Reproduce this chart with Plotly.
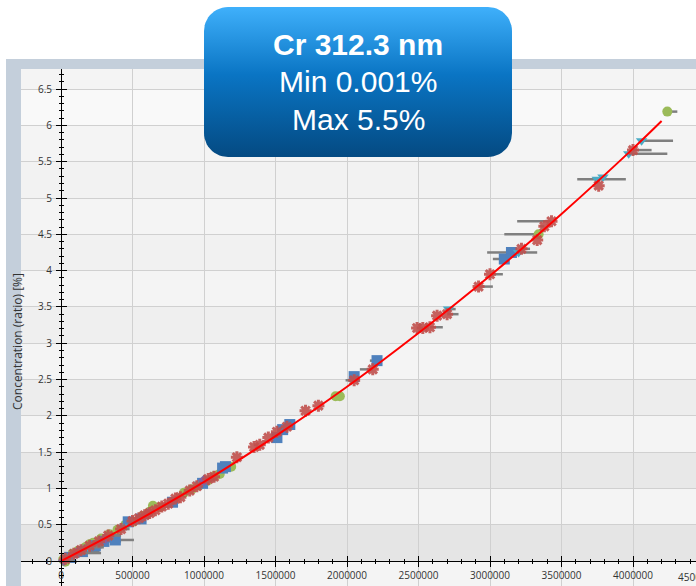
import numpy as np
import plotly.graph_objects as go

W, H = 696, 586

# ---------------------------------------------------------------- data
# fitted calibration curve: intensity -> concentration [%]
curve_x = [0, 500000, 1000000, 1500000, 2000000, 2500000, 3000000, 3500000, 4000000, 4200000]
curve_y = [0.0, 0.52, 1.09, 1.72, 2.40, 3.14, 3.93, 4.78, 5.68, 6.06]

# standards, set 1 (green circles)
g_x = [15000, 45000, 80000, 120000, 170000, 225000, 280000, 340000, 395000, 450000,
       505000, 570000, 643000, 690000, 860000, 915000, 965000, 1020000, 1075000, 1190000,
       1920000, 1950000, 3340000, 4240000, 30000, 200000, 620000, 1110000]
g_y = [0.02, 0.05, 0.10, 0.14, 0.19, 0.25, 0.31, 0.37, 0.43, 0.50,
       0.54, 0.62, 0.76, 0.74, 0.94, 0.99, 1.04, 1.10, 1.17, 1.30,
       2.27, 2.27, 4.50, 6.19, -0.01, 0.23, 0.68, 1.20]
g_ep = [60000, 0, 90000, 150000, 120000, 0, 0, 80000, 0, 0,
        0, 0, 0, 40000, 0, 0, 0, 0, 60000, 0,
        0, 0, 0, 70000, 80000, 100000, 0, 0]
g_em = [0] * 22 + [240000, 0, 0, 0, 0, 0]

# standards, set 2 (blue squares)
b_x = [60000, 150000, 240000, 300000, 380000, 470000, 560000, 780000, 990000, 1130000,
       1150000, 1510000, 1550000, 1600000, 2050000, 2210000, 3100000, 3150000]
b_y = [0.05, 0.13, 0.21, 0.27, 0.29, 0.54, 0.58, 0.81, 1.07, 1.28,
       1.30, 1.70, 1.81, 1.88, 2.54, 2.76, 4.16, 4.25]
b_ep = [0, 100000, 0, 120000, 130000, 0, 0, 0, 50000, 0,
        0, 0, 0, 0, 0, 0, 0, 0]
b_em = [0] * 15 + [50000, 80000, 170000]

# standards, set 3 (cyan triangles)
c_x = [50000, 190000, 440000, 520000, 970000, 2710000, 3200000, 3750000, 3790000, 3970000, 4060000]
c_y = [0.06, 0.19, 0.47, 0.55, 1.06, 3.47, 4.25, 5.26, 5.29, 5.61, 5.79]
c_ep = [80000, 110000, 0, 0, 0, 50000, 130000, 200000, 0, 270000, 220000]
c_em = [0, 0, 0, 0, 0, 0, 0, 140000, 0, 0, 0]

# standards, set 4 (purple diamonds)
p_x = [20000, 110000, 310000, 610000, 1000000]
p_y = [0.01, 0.11, 0.31, 0.65, 1.11]
p_ep = [70000, 170000, 60000, 0, 80000]
p_em = [0, 0, 0, 0, 0]

# standards, set 5 (red asterisks)
r_x = [30000, 90000, 140000, 200000, 265000, 330000, 420000, 500000, 545000, 585000,
       620000, 660000, 705000, 750000, 800000, 835000, 900000, 950000, 1030000, 1070000,
       1230000, 1350000, 1390000, 1450000, 1510000, 1580000, 1710000, 1800000, 2050000, 2180000,
       2490000, 2530000, 2580000, 2630000, 2700000, 2920000, 3000000, 3220000, 3330000, 3380000,
       3430000, 3760000, 4000000]
r_y = [0.03, 0.10, 0.15, 0.21, 0.27, 0.35, 0.44, 0.55, 0.59, 0.63,
       0.66, 0.70, 0.75, 0.79, 0.86, 0.88, 0.97, 1.03, 1.13, 1.16,
       1.43, 1.57, 1.60, 1.70, 1.78, 1.85, 2.07, 2.14, 2.49, 2.64,
       3.21, 3.21, 3.22, 3.38, 3.40, 3.78, 3.95, 4.30, 4.42, 4.61,
       4.68, 5.17, 5.66]
r_ep = [0, 70000, 0, 100000, 0, 90000, 60000, 0, 0, 0,
        0, 0, 0, 0, 0, 0, 0, 0, 60000, 0,
        0, 0, 0, 0, 0, 0, 0, 0, 0, 0,
        0, 0, 90000, 0, 80000, 100000, 90000, 60000, 0, 0,
        0, 0, 130000]
r_em = [0] * 28 + [60000, 90000] + [0] * 9 + [30000, 240000, 0, 0]

x_tick_step = 500000
y_tick_step = 0.5

# ------------------------------------------------------------- geometry
x_range = [-279720, 4440559]
y_range = [-0.344, 6.777]
x_dom = [21 / W, 1.0]
y_dom = [0.0, (H - 69) / H]
# the axes cross at the origin
x_axis_pos = y_dom[0] + (0 - y_range[0]) / (y_range[1] - y_range[0]) * (y_dom[1] - y_dom[0])
y_axis_pos = x_dom[0] + (0 - x_range[0]) / (x_range[1] - x_range[0]) * (x_dom[1] - x_dom[0])

TICK_FONT = dict(family="Open Sans", size=10, color="#333333")
ERR_COLOR = "#7f7f7f"


def err(plus, minus):
    return dict(type="data", symmetric=False, array=plus, arrayminus=minus,
                color=ERR_COLOR, thickness=2.5, width=0)


fig = go.Figure()

fig.add_trace(go.Scatter(x=g_x, y=g_y, mode="markers", error_x=err(g_ep, g_em),
                         marker=dict(symbol="circle", size=10, color="#9bbb59"),
                         hoverinfo="skip", showlegend=False))
fig.add_trace(go.Scatter(x=b_x, y=b_y, mode="markers", error_x=err(b_ep, b_em),
                         marker=dict(symbol="square", size=11, color="#4f81bd"),
                         hoverinfo="skip", showlegend=False))
fig.add_trace(go.Scatter(x=c_x, y=c_y, mode="markers", error_x=err(c_ep, c_em),
                         marker=dict(symbol="triangle-down", size=10, color="#4bacc6"),
                         hoverinfo="skip", showlegend=False))
fig.add_trace(go.Scatter(x=p_x, y=p_y, mode="markers", error_x=err(p_ep, p_em),
                         marker=dict(symbol="diamond", size=9, color="#8064a2"),
                         hoverinfo="skip", showlegend=False))
fig.add_trace(go.Scatter(x=r_x, y=r_y, mode="markers", error_x=err(r_ep, r_em),
                         marker=dict(symbol="asterisk", size=10, color="#c0504d",
                                     line=dict(color="rgba(192,80,77,0.9)", width=3)),
                         hoverinfo="skip", showlegend=False))
fig.add_trace(go.Scatter(x=curve_x, y=curve_y, mode="lines",
                         line=dict(color="#ff0000", width=2, shape="spline"),
                         hoverinfo="skip", showlegend=False))

# companion axes carrying the inner half of the crossing tick marks
fig.add_trace(go.Scatter(x=[], y=[], xaxis="x2", yaxis="y2", showlegend=False, hoverinfo="skip"))


# header badge, drawn in a pixel-space overlay
def rounded_rect(x0, y0, x1, y1, r, n=14):
    xs, ys = [], []
    corners = [(x1 - r, y0 + r, -90, 0), (x1 - r, y1 - r, 0, 90),
               (x0 + r, y1 - r, 90, 180), (x0 + r, y0 + r, 180, 270)]
    for cx, cy, a0, a1 in corners:
        for t in np.linspace(np.radians(a0), np.radians(a1), n):
            xs.append(cx + r * np.cos(t))
            ys.append(cy + r * np.sin(t))
    xs.append(xs[0])
    ys.append(ys[0])
    return xs, ys


bx, by = rounded_rect(204, 7, 512, 157, 24)
fig.add_trace(go.Scatter(
    x=bx, y=by, xaxis="x3", yaxis="y3", mode="lines", line=dict(width=0),
    fill="toself",
    fillgradient=dict(type="vertical",
                      colorscale=[[0, "#044a82"], [0.55, "#0a75c4"], [1, "#3fb0fb"]]),
    hoverinfo="skip", showlegend=False))

common = dict(fixedrange=True)
fig.update_layout(
    width=W, height=H,
    margin=dict(l=0, r=0, t=0, b=0),
    paper_bgcolor="white",
    plot_bgcolor="rgba(0,0,0,0)",
    xaxis=dict(domain=x_dom, range=x_range, anchor="free", position=x_axis_pos,
               tick0=0, dtick=x_tick_step, tickformat="d",
               showgrid=True, gridcolor="#d0d0d0", gridwidth=1, zeroline=False,
               showline=True, linecolor="black", linewidth=1,
               ticks="outside", ticklen=5, tickwidth=1, tickcolor="black",
               minor=dict(tick0=0, dtick=100000, ticks="outside", ticklen=2,
                          tickcolor="black", showgrid=False),
               tickfont=TICK_FONT, **common),
    yaxis=dict(domain=y_dom, range=y_range, anchor="free", position=y_axis_pos,
               tick0=0, dtick=y_tick_step,
               showgrid=True, gridcolor="#d0d0d0", gridwidth=1, zeroline=False,
               showline=True, linecolor="black", linewidth=1,
               ticks="outside", ticklen=5, tickwidth=1, tickcolor="black",
               minor=dict(tick0=0, dtick=0.1, ticks="outside", ticklen=2,
                          tickcolor="black", showgrid=False),
               tickfont=TICK_FONT, ticklabelstandoff=2, **common),
    xaxis2=dict(overlaying="x", range=x_range, anchor="free", position=x_axis_pos,
                tick0=0, dtick=x_tick_step, showticklabels=False,
                showgrid=False, zeroline=False, showline=False,
                ticks="inside", ticklen=5, tickwidth=1, tickcolor="black",
                minor=dict(tick0=0, dtick=100000, ticks="inside", ticklen=2,
                           tickcolor="black", showgrid=False), **common),
    yaxis2=dict(overlaying="y", range=y_range, anchor="free", position=y_axis_pos,
                tick0=0, dtick=y_tick_step, showticklabels=False,
                showgrid=False, zeroline=False, showline=False,
                ticks="inside", ticklen=5, tickwidth=1, tickcolor="black",
                minor=dict(tick0=0, dtick=0.1, ticks="inside", ticklen=2,
                           tickcolor="black", showgrid=False), **common),
    xaxis3=dict(domain=[0, 1], range=[0, W], anchor="y3", visible=False, **common),
    yaxis3=dict(domain=[0, 1], range=[H, 0], anchor="x3", visible=False, **common),
)

# frame, plot background and alternating bands
shapes = [
    dict(type="rect", xref="paper", yref="paper", x0=6 / W, x1=1, y0=(H - 69) / H, y1=(H - 59) / H,
         fillcolor="#c4cfdb", line=dict(width=0), layer="below"),
    dict(type="rect", xref="paper", yref="paper", x0=6 / W, x1=21 / W, y0=0, y1=(H - 59) / H,
         fillcolor="#c4cfdb", line=dict(width=0), layer="below"),
    dict(type="rect", xref="paper", yref="paper", x0=21 / W, x1=1, y0=0, y1=(H - 69) / H,
         fillcolor="#f4f4f4", line=dict(width=0), layer="below"),
]
band_lo = [0, 1, 2, 3, 4, 5, 6]
band_col = ["#e5e5e5", "#e8e8e8", "#ededed", "#efefef", "#f1f1f1", "#f2f2f2", "#f9f9f9"]
for lo, col in zip(band_lo, band_col):
    shapes.append(dict(type="rect", xref="paper", yref="y", x0=21 / W, x1=1, y0=lo, y1=lo + 0.5,
                       fillcolor=col, line=dict(width=0), layer="below"))
fig.update_layout(shapes=shapes)

annotations = [
    # axis title
    dict(text="Concentration (ratio) [%]", xref="paper", yref="paper",
         x=17 / W, y=1 - 342 / H, textangle=-90, showarrow=False,
         xanchor="center", yanchor="middle",
         font=dict(family="Open Sans", size=12, color="#333333")),
    # last tick label, running past the right edge
    dict(text="4500000", xref="paper", yref="paper", x=698 / W, y=1 - 577 / H,
         showarrow=False, xanchor="center", yanchor="middle", font=TICK_FONT),
    # badge text
    dict(text="<b>Cr 312.3 nm</b>", xref="paper", yref="paper", x=358 / W, y=1 - 44 / H,
         showarrow=False, xanchor="center", yanchor="middle",
         font=dict(family="Liberation Sans", size=30, color="white")),
    dict(text="Min 0.001%", xref="paper", yref="paper", x=358 / W, y=1 - 82 / H,
         showarrow=False, xanchor="center", yanchor="middle",
         font=dict(family="Liberation Sans", size=30, color="white")),
    dict(text="Max 5.5%", xref="paper", yref="paper", x=358 / W, y=1 - 120 / H,
         showarrow=False, xanchor="center", yanchor="middle",
         font=dict(family="Liberation Sans", size=30, color="white")),
]
fig.update_layout(annotations=annotations)

fig.write_html("out.html")
